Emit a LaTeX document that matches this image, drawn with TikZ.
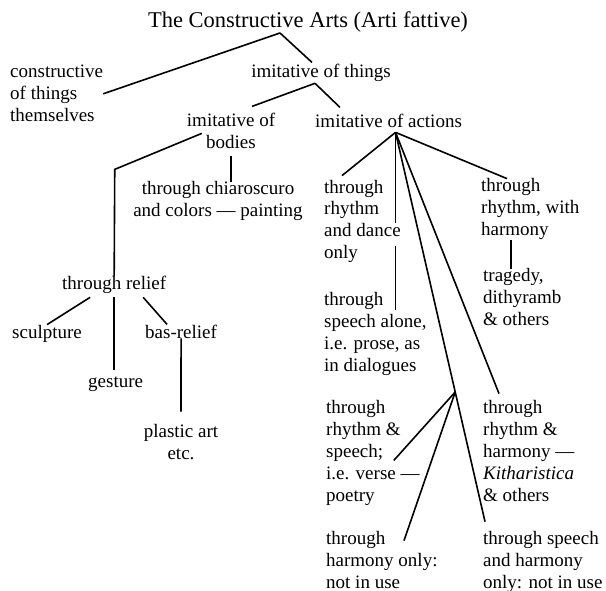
\documentclass[tikz,border=0pt]{standalone}
\usepackage{fontspec}
\setmainfont{Liberation Serif}
\usetikzlibrary{calc}
\newcommand{\bodyfnt}{\fontsize{19}{22}\selectfont}
\newcommand{\titlefnt}{\fontsize{22.5}{26}\selectfont}

\begin{document}
\begin{tikzpicture}[x=1pt, y=-1pt,
  lbl/.style={inner sep=0pt, align=left, anchor=base west, font=\bodyfnt},
  clbl/.style={inner sep=0pt, align=center, anchor=base, font=\bodyfnt},
  ttl/.style={inner sep=0pt, anchor=base, font=\titlefnt},
  ln/.style={line width=1.6pt},
]
  \useasboundingbox (0,0) rectangle (606,591);
  %% Title and first split (nodes sit on the baseline of their last line)
  \node[ttl] (title) at (308,28) {The Constructive Arts (Arti fattive)};
  \node[lbl] (constr) at (10,122) {constructive\\of things\\themselves};
  \node[clbl] (things) at (321,78) {imitative of things};
  \coordinate (tj) at ([shift={(-28,0)}]title.south);
  \draw[ln] (tj) -- (constr.east);
  \draw[ln] (tj) -- ([shift={(-9,-2)}]things.north);

  %% imitative of things: bodies and actions
  \node[clbl] (bodies) at (231,149) {imitative of\\bodies};
  \node[lbl] (actions) at (315,128) {imitative of actions};
  \coordinate (thj) at ([shift={(-6,1)}]things.south);
  \draw[ln] (thj) -- ([shift={(21,-7)}]bodies.north);
  \draw[ln] (thj) -- ([shift={(25,-7)}]actions.north west);

  %% Left branch: bodies
  \node[clbl] (paint) at (218,217) {through chiaroscuro\\and colors --- painting};
  \node[lbl] (relief) at (62,290) {through relief};
  \node[lbl] (sculpt) at (12,338) {sculpture};
  \node[lbl] (basrel) at (145,338) {bas-relief};
  \node[lbl] (gesture) at (88,387) {gesture};
  \node[clbl] (plastic) at (181,459) {plastic art\\etc.};
  \draw[ln] ([shift={(15,2)}]bodies.west) -- ++(-87,36) -- (relief.north);
  \draw[ln] ([shift={(0,7)}]bodies.south) -- (bodies.south |- paint.north);
  \draw[ln] ([shift={(-24,3)}]relief.south) -- (sculpt.north);
  \draw[ln] ([shift={(0,3)}]relief.south) -- ($(relief.south |- gesture.north)+(0,-6)$);
  \draw[ln] ([shift={(29,3)}]relief.south) -- ([shift={(-14,0)}]basrel.north);
  \draw[ln] (basrel.south) -- ([shift={(0,-12)}]plastic.north);

  %% Right branch: actions
  \node[lbl] (dance) at (324,259) {through\\rhythm\\and dance\\only};
  \node[lbl] (prose) at (324,371) {through\\speech alone,\\i.e. prose, as\\in dialogues};
  \node[lbl] (harmony) at (481,236) {through\\rhythm, with\\harmony};
  \node[lbl] (tragedy) at (483,326) {tragedy,\\dithyramb\\\& others};
  \node[lbl] (verse) at (326,501) {through\\rhythm \&\\speech;\\i.e. verse ---\\poetry};
  \node[lbl] (kith) at (483,501) {through\\rhythm \&\\harmony ---\\\textit{Kitharistica}\\\& others};
  \node[lbl] (harmonly) at (326,588) {through\\harmony only:\\not in use};
  \node[lbl] (speechharm) at (483,588) {through speech\\and harmony\\only: not in use};

  \coordinate (acthub) at ([shift={(7,4)}]actions.south);
  \coordinate (shport) at ([shift={(2,-9)}]speechharm.north west);
  \coordinate (vjoin) at ($(acthub)!0.667!(shport)$);
  \draw[ln] (acthub) -- ([shift={(18,-4)}]dance.north west);
  \draw[ln] (acthub) -- ($(acthub |- dance.center)+(0,2)$);
  \draw[ln] ($(acthub |- dance.center)+(0,25)$) -- ($(acthub |- prose.north)+(0,18)$);
  \draw[ln] (acthub) -- ([shift={(26,0)}]harmony.north west);
  \draw[ln] (acthub) -- ([shift={(16,-6)}]kith.north west);
  \draw[ln] (acthub) -- (shport);
  \draw[ln] (vjoin) -- ([shift={(-26,8)}]verse.east);
  \draw[ln] (vjoin) -- ([shift={(78,10)}]harmonly.north west);
  \draw[ln] ([shift={(30,0)}]harmony.south west) -- ([shift={(28,0)}]tragedy.north west);
\end{tikzpicture}
\end{document}
